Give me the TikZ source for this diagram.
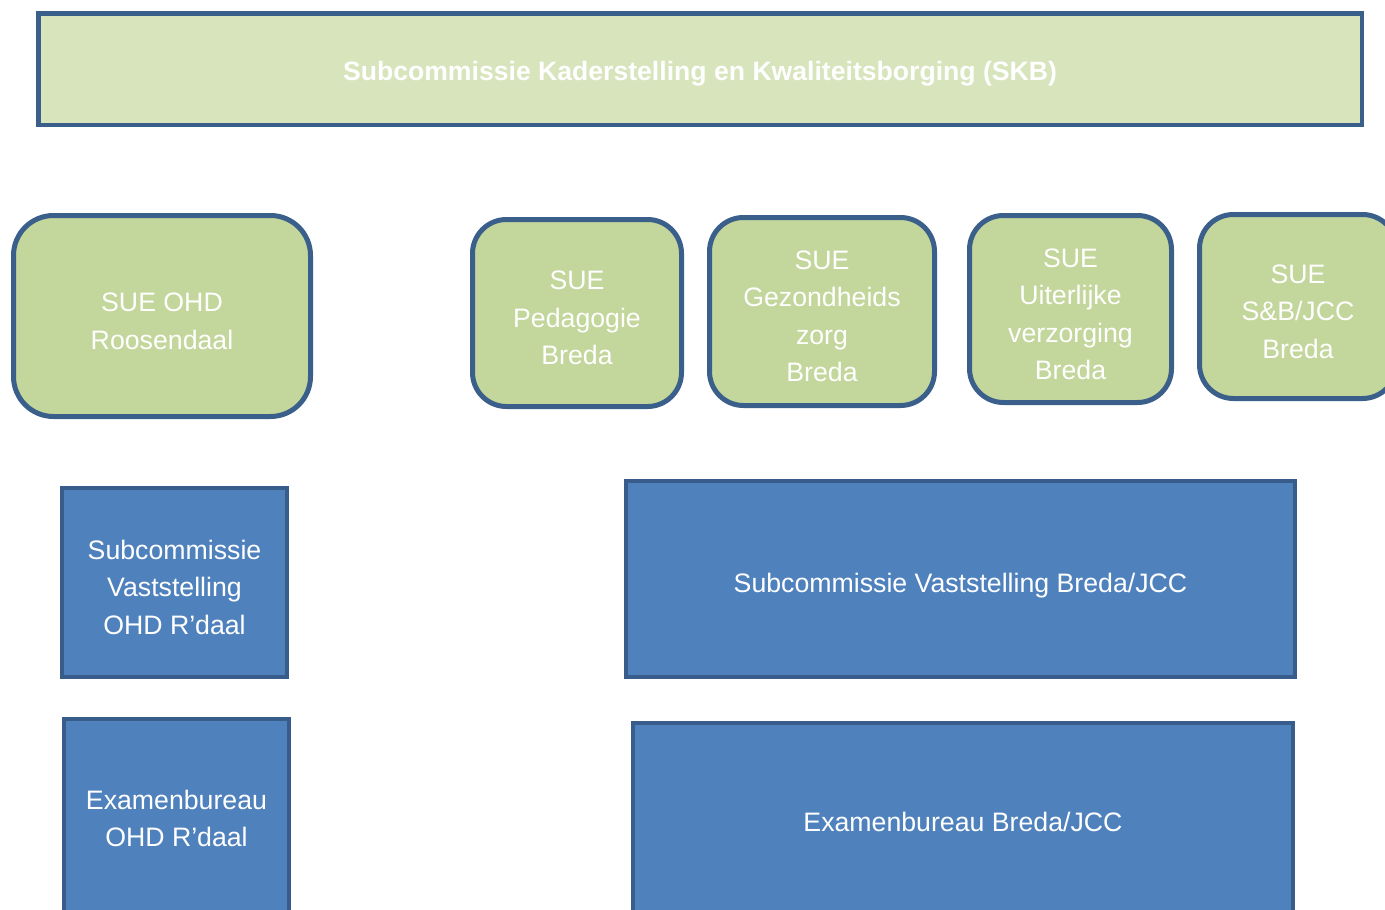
\documentclass[tikz,border=0pt]{standalone}
\usepackage{fontspec}
\setmainfont{Liberation Sans}
\definecolor{bordc}{HTML}{3A5F8B}
\definecolor{topfill}{HTML}{D8E4BC}
\definecolor{suefill}{HTML}{C3D69B}
\definecolor{bluefill}{HTML}{4F81BD}
\definecolor{blueborder}{HTML}{385D8A}
\begin{document}
\begin{tikzpicture}[x=1pt,y=-1pt,
  txt/.style={text=white, font=\fontsize{26.7}{37.5}\selectfont, align=center, inner sep=0pt},
  toptxt/.style={txt, font=\bfseries\fontsize{26.6}{30}\selectfont},
  topbox/.style={draw=bordc, line width=4.5pt, fill=topfill, inner sep=0pt},
  suebox/.style={draw=bordc, line width=5pt, fill=suefill, rounded corners=34pt, inner sep=0pt},
  bluebox/.style={draw=blueborder, line width=4pt, fill=bluefill, inner sep=0pt}]
\useasboundingbox (0,0) rectangle (1385,910);
\clip (0,0) rectangle (1385,910);
% boxes
\node[topbox, minimum width=1323.5pt, minimum height=111.5pt] (skb) at (700,69) {};
\node[suebox, rounded corners=40pt, minimum width=297pt, minimum height=201pt] (ohd) at (162,316) {};
\node[suebox, minimum width=209pt, minimum height=187pt] (ped) at (577,313) {};
\node[suebox, minimum width=225pt, minimum height=188pt] (gez) at (822,311.5) {};
\node[suebox, minimum width=202pt, minimum height=187pt] (uit) at (1070.5,309) {};
\node[suebox, minimum width=197pt, minimum height=184pt] (sb) at (1298,306.5) {};
\node[bluebox, minimum width=225pt, minimum height=189pt] (vohd) at (174.5,582.5) {};
\node[bluebox, minimum width=225pt, minimum height=209pt] (eohd) at (176.5,823.5) {};
\node[bluebox, minimum width=669pt, minimum height=196pt] (vbr) at (960.5,579) {};
\node[bluebox, minimum width=660pt, minimum height=210pt] (ebr) at (963,828) {};
% texts
\node[toptxt] (skbt) at ([yshift=-4.5pt]skb.center) {Subcommissie Kaderstelling en Kwaliteitsborging (SKB)};
\node[txt] (ohdt) at ([yshift=-5.5pt]ohd.center) {SUE OHD\\Roosendaal};
\node[txt] (pedt) at ([yshift=-5pt]ped.center) {SUE\\Pedagogie\\Breda};
\node[txt] (gezt) at ([yshift=-5pt]gez.center) {SUE\\Gezondheids\\zorg\\Breda};
\node[txt] (uitt) at ([yshift=-5.5pt]uit.center) {SUE\\Uiterlijke\\verzorging\\Breda};
\node[txt] (sbt) at ([yshift=-5pt]sb.center) {SUE\\S\&B/JCC\\Breda};
\node[txt] (vohdt) at ([yshift=-4.5pt]vohd.center) {Subcommissie\\Vaststelling\\OHD R’daal};
\node[txt] (eohdt) at (176.5,818.5) {Examenbureau\\OHD R’daal};
\node[txt] (vbrt) at ([yshift=-6.5pt]vbr.center) {Subcommissie Vaststelling Breda/JCC};
\node[txt] (ebrt) at (963,822) {Examenbureau Breda/JCC};
\end{tikzpicture}
\end{document}
